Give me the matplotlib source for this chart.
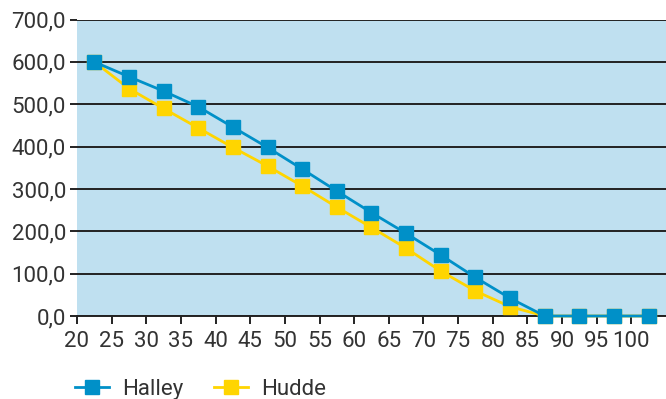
import numpy as np
import matplotlib.pyplot as plt
from matplotlib.ticker import FuncFormatter

ages = [20, 25, 30, 35, 40, 45, 50, 55, 60, 65, 70, 75, 80, 85, 90, 95, 100]
halley = [600, 565, 531, 494, 446, 398, 347, 295, 244, 195, 144, 91, 42, 0, 0, 0, 0]
hudde = [600, 537, 490, 444, 398, 354, 307, 257, 209, 160, 106, 59, 22, 0, 0, 0, 0]

blue = '#0090c8'
yellow = '#ffd500'

plt.rcParams['font.family'] = ['Roboto', 'DejaVu Sans']

fig = plt.figure(figsize=(6.66, 3.99), dpi=100)
ax = fig.add_axes([0.1156, 0.208, 0.8844, 0.743])
ax.set_facecolor('#bfe0f0')

# punkty w srodku przedzialu kategorii
x = np.array(ages) + 2.5
ax.plot(x, hudde, color=yellow, lw=2.0, marker='s', ms=10.5, label='Hudde', zorder=3, clip_on=False)
ax.plot(x, halley, color=blue, lw=2.0, marker='s', ms=10.5, label='Halley', zorder=4, clip_on=False)

ax.set_xlim(20, 105)
ax.set_ylim(0, 700)
ax.set_xticks(ages)
ax.set_yticks(range(0, 701, 100))
ax.yaxis.set_major_formatter(FuncFormatter(lambda v, p: f'{v:.1f}'.replace('.', ',')))

ax.grid(axis='y', color='#222222', lw=1.4)
ax.set_axisbelow(True)
for s in ['top', 'right', 'left']:
    ax.spines[s].set_visible(False)
ax.spines['bottom'].set_color('#222222')
ax.spines['bottom'].set_linewidth(1.4)
ax.tick_params(axis='y', length=5, width=1.4, color='#222222', labelsize=16, labelcolor='#333333', pad=3)
ax.tick_params(axis='x', length=6, width=1.4, color='#222222', labelsize=16, labelcolor='#333333', pad=5)

h, l = ax.get_legend_handles_labels()
fig.legend(h[::-1], l[::-1], loc='center left', bbox_to_anchor=(0.113, 0.025), ncol=2,
           frameon=False, fontsize=16, handlelength=1.5, handletextpad=0.6,
           columnspacing=1.4, borderpad=0, borderaxespad=0, labelcolor='#333333')

fig.savefig('out.png')
